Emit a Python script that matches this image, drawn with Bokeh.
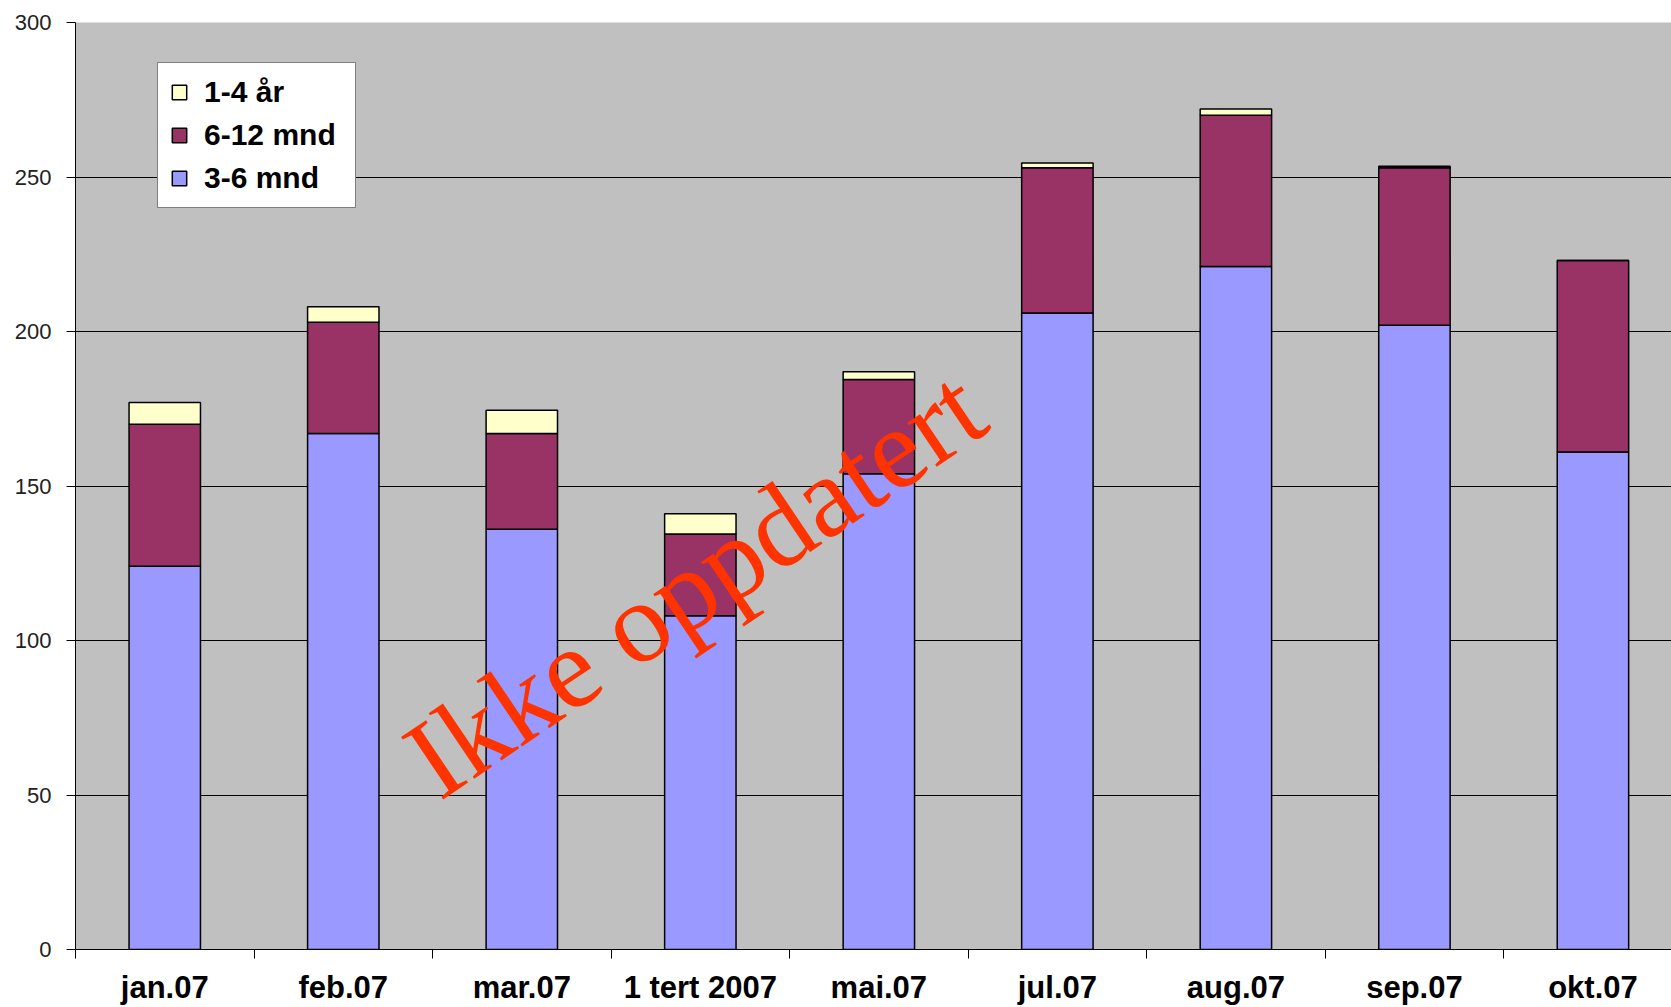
from bokeh.plotting import figure
from bokeh.models import Range1d, FixedTicker, Legend, LegendItem, Label, ColumnDataSource
from bokeh.embed import file_html
from bokeh.resources import INLINE

categories = ["jan.07", "feb.07", "mar.07", "1 tert 2007", "mai.07",
              "jul.07", "aug.07", "sep.07", "okt.07"]
m3_6 = [124, 167, 136, 108, 154, 206, 221, 202, 161]
m6_12 = [46, 36, 31, 26.5, 30.5, 47, 49, 51, 62]
y1_4 = [7, 5, 7.5, 6.5, 2.5, 1.5, 2, 0.5, 0]
y_ticks = [0, 50, 100, 150, 200, 250, 300]

series_names = ["3-6 mnd", "6-12 mnd", "1-4 år"]
series_colors = ["#9999FF", "#993366", "#FFFFCC"]

xs = [i + 0.5 for i in range(len(categories))]
src = ColumnDataSource(dict(x=xs, a=m3_6, b=m6_12, c=y1_4))

p = figure(width=1671, height=1007, output_backend="svg", toolbar_location=None,
           x_range=Range1d(0, 8.94), y_range=Range1d(0, 300),
           min_border_left=75, min_border_right=0, min_border_top=22, min_border_bottom=56)
p.background_fill_color = "#C0C0C0"
p.border_fill_color = "white"
p.outline_line_color = None

rs = p.vbar_stack(["a", "b", "c"], x="x", width=0.4, color=series_colors,
                  line_color="black", line_width=1.5, source=src)

# x axis
xa = p.xaxis[0]
xa.ticker = FixedTicker(ticks=xs, minor_ticks=list(range(len(categories) + 1)))
xa.major_label_overrides = {x: c for x, c in zip(xs, categories)}
xa.major_tick_line_color = None
xa.major_tick_out = 9
xa.major_tick_in = 0
xa.minor_tick_line_color = "black"
xa.minor_tick_out = 9
xa.minor_tick_in = 0
xa.axis_line_color = "black"
xa.major_label_text_font = "Liberation Sans"
xa.major_label_text_font_style = "bold"
xa.major_label_text_font_size = "31px"
xa.major_label_text_color = "black"
xa.major_label_standoff = 11

# y axis
ya = p.yaxis[0]
ya.ticker = FixedTicker(ticks=y_ticks)
ya.minor_tick_line_color = None
ya.major_tick_out = 9
ya.major_tick_in = 0
ya.major_tick_line_color = "black"
ya.axis_line_color = "black"
ya.major_label_text_font = "Liberation Sans"
ya.major_label_text_font_size = "22px"
ya.major_label_text_color = "#222222"
ya.major_label_standoff = 15

p.xgrid.visible = False
p.ygrid.ticker = FixedTicker(ticks=y_ticks[1:-1])
p.ygrid.grid_line_color = "black"
p.ygrid.grid_line_width = 1

legend = Legend(items=[LegendItem(label=series_names[2], renderers=[rs[2]]),
                       LegendItem(label=series_names[1], renderers=[rs[1]]),
                       LegendItem(label=series_names[0], renderers=[rs[0]])],
                location=(82, 741), margin=0, padding=12, spacing=9,
                glyph_width=18, glyph_height=18, label_standoff=16, label_width=139,
                border_line_color="black", border_line_width=1,
                background_fill_color="white", background_fill_alpha=1,
                label_text_font="Liberation Sans", label_text_font_style="bold",
                label_text_font_size="30px", label_text_color="black")
p.add_layout(legend, "center")

p.add_layout(Label(x=3.47, y=118.5, text="Ikke oppdatert", angle=34, angle_units="deg",
                   text_align="center", text_baseline="middle",
                   text_font="Liberation Serif", text_font_size="115px",
                   text_color="#FF3300"))

open("out.html", "w").write(file_html(p, INLINE))
